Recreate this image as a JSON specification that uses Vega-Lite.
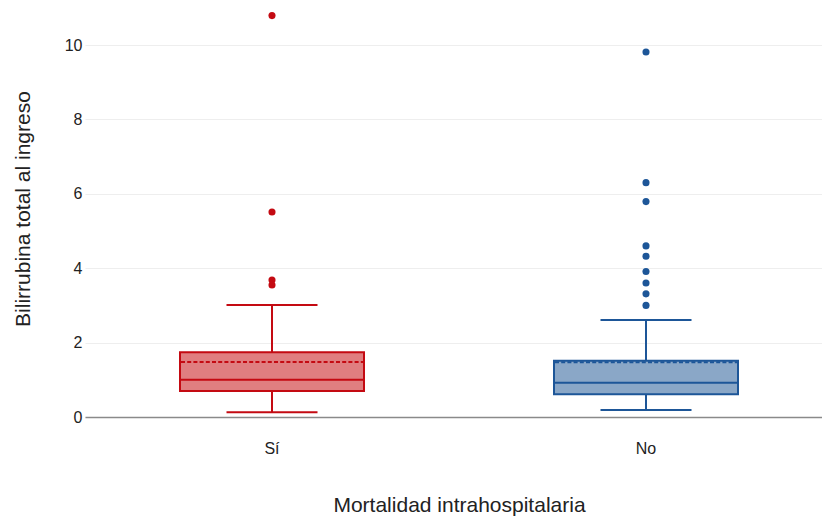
{
  "$schema": "https://vega.github.io/schema/vega-lite/v6.json",
  "width": 737,
  "height": 417,
  "autosize": "none",
  "padding": {"left": 85, "top": 0, "right": 0, "bottom": 101},
  "background": "white",
  "config": {
    "view": {"stroke": null},
    "font": "Liberation Sans"
  },
  "datasets": {
    "cajas": [
      {"grupo": "Sí", "minimo": 0.13, "q1": 0.70, "mediana": 1.00, "q3": 1.74, "maximo": 3.01, "media": 1.48},
      {"grupo": "No", "minimo": 0.19, "q1": 0.61, "mediana": 0.92, "q3": 1.51, "maximo": 2.61, "media": 1.47}
    ],
    "atipicos": [
      {"grupo": "Sí", "valor": 10.79},
      {"grupo": "Sí", "valor": 5.51},
      {"grupo": "Sí", "valor": 3.68},
      {"grupo": "Sí", "valor": 3.55},
      {"grupo": "No", "valor": 9.81},
      {"grupo": "No", "valor": 6.30},
      {"grupo": "No", "valor": 5.79},
      {"grupo": "No", "valor": 4.60},
      {"grupo": "No", "valor": 4.32},
      {"grupo": "No", "valor": 3.91},
      {"grupo": "No", "valor": 3.60},
      {"grupo": "No", "valor": 3.31},
      {"grupo": "No", "valor": 3.00}
    ]
  },
  "encoding": {
    "x": {
      "field": "grupo",
      "type": "nominal",
      "sort": ["Sí", "No"],
      "scale": {"range": [0, 748], "paddingInner": 0, "paddingOuter": 0},
      "axis": {
        "title": "Mortalidad intrahospitalaria",
        "titleFontSize": 21,
        "titleFontWeight": "normal",
        "titleColor": "#222222",
        "titleX": 374,
        "titlePadding": 38,
        "labelAngle": 0,
        "labelFontSize": 16,
        "labelColor": "#222222",
        "labelPadding": 23,
        "ticks": false,
        "domainColor": "#8a8a8a",
        "domainWidth": 1.5,
        "grid": false
      }
    }
  },
  "layer": [
    {
      "data": {"name": "cajas"},
      "mark": {"type": "rule", "strokeWidth": 2},
      "encoding": {
        "y": {
          "field": "minimo",
          "type": "quantitative",
          "scale": {"domain": [0, 11.21], "nice": false, "zero": false},
          "axis": {
            "title": "Bilirrubina total al ingreso",
            "titleFontSize": 21,
            "titleFontWeight": "normal",
            "titleColor": "#222222",
            "titlePadding": 31,
            "values": [0, 2, 4, 6, 8, 10],
            "labelFontSize": 16,
            "labelColor": "#222222",
            "labelPadding": 3,
            "ticks": false,
            "domain": false,
            "grid": true,
            "gridColor": "#eeeeee",
            "gridWidth": 1.2
          }
        },
        "y2": {"field": "maximo"},
        "stroke": {
          "field": "grupo",
          "type": "nominal",
          "scale": {"domain": ["Sí", "No"], "range": ["#c40a12", "#1d5698"]},
          "legend": null
        }
      }
    },
    {
      "data": {"name": "cajas"},
      "mark": {"type": "bar", "size": 184, "strokeWidth": 2},
      "encoding": {
        "y": {"field": "q1", "type": "quantitative"},
        "y2": {"field": "q3"},
        "fill": {
          "field": "grupo",
          "type": "nominal",
          "scale": {"domain": ["Sí", "No"], "range": ["#e07e80", "#8aa7c7"]},
          "legend": null
        },
        "stroke": {"field": "grupo", "type": "nominal", "legend": null}
      }
    },
    {
      "data": {"name": "cajas"},
      "mark": {"type": "rule", "strokeWidth": 2, "xOffset": -45.5, "x2Offset": 45.5},
      "encoding": {
        "y": {"field": "minimo", "type": "quantitative"},
        "x2": {"field": "grupo"},
        "stroke": {"field": "grupo", "type": "nominal", "legend": null}
      }
    },
    {
      "data": {"name": "cajas"},
      "mark": {"type": "rule", "strokeWidth": 2, "xOffset": -45.5, "x2Offset": 45.5},
      "encoding": {
        "y": {"field": "maximo", "type": "quantitative"},
        "x2": {"field": "grupo"},
        "stroke": {"field": "grupo", "type": "nominal", "legend": null}
      }
    },
    {
      "data": {"name": "cajas"},
      "mark": {"type": "rule", "strokeWidth": 2, "xOffset": -92, "x2Offset": 92},
      "encoding": {
        "y": {"field": "mediana", "type": "quantitative"},
        "x2": {"field": "grupo"},
        "stroke": {"field": "grupo", "type": "nominal", "legend": null}
      }
    },
    {
      "data": {"name": "cajas"},
      "mark": {"type": "rule", "strokeWidth": 2, "strokeDash": [4, 2.2], "xOffset": -91, "x2Offset": 91},
      "encoding": {
        "y": {"field": "media", "type": "quantitative"},
        "x2": {"field": "grupo"},
        "stroke": {"field": "grupo", "type": "nominal", "legend": null}
      }
    },
    {
      "data": {"name": "atipicos"},
      "mark": {"type": "circle", "size": 50, "opacity": 1},
      "encoding": {
        "y": {"field": "valor", "type": "quantitative"},
        "color": {
          "field": "grupo",
          "type": "nominal",
          "scale": {"domain": ["Sí", "No"], "range": ["#c40a12", "#1d5698"]},
          "legend": null
        }
      }
    }
  ]
}
